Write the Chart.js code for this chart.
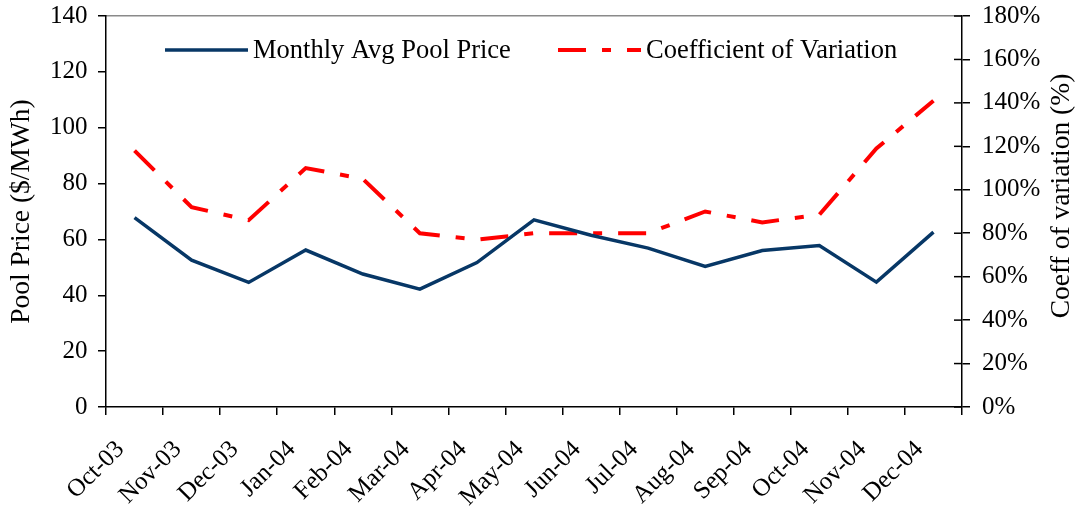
<!DOCTYPE html>
<html>
<head>
<meta charset="utf-8">
<script src="https://cdn.jsdelivr.net/npm/chart.js@4.4.1/dist/chart.umd.min.js"></script>
<style>
html,body{margin:0;padding:0;background:#fff;}
#wrap{width:1078px;height:513px;position:relative;}
</style>
</head>
<body>
<div id="wrap"><canvas id="c"></canvas></div>
<script>
const categories = ['Oct-03','Nov-03','Dec-03','Jan-04','Feb-04','Mar-04','Apr-04','May-04','Jun-04','Jul-04','Aug-04','Sep-04','Oct-04','Nov-04','Dec-04'];
const poolPrice = [67.8, 52.6, 44.6, 56.2, 47.6, 42.2, 51.7, 67.0, 61.5, 56.9, 50.3, 56.0, 57.8, 44.7, 62.6];
const coeffVariation = [118, 92, 86, 110, 105, 80, 77, 80, 80, 80, 90, 85, 88.5, 119, 141];
const seriesNames = ['Monthly Avg Pool Price', 'Coefficient of Variation'];
const axisTitles = ['Pool Price ($/MWh)', 'Coeff of variation (%)'];

const SERIF = "'Liberation Serif', 'Times New Roman', serif";
Chart.defaults.font.family = SERIF;
Chart.defaults.color = '#000';

// legend drawn inside the plot area, in one row (like the original)
const inlineLegend = {
  id: 'inlineLegend',
  afterDraw(chart) {
    const ctx = chart.ctx;
    const y = 50;
    const slots = [{ x: 165, w: 83, tx: 253 }, { x: 558, w: 83, tx: 646 }];
    ctx.save();
    chart.data.datasets.forEach((ds, i) => {
      const s = slots[i];
      ctx.beginPath();
      ctx.strokeStyle = ds.borderColor;
      ctx.lineWidth = ds.borderWidth;
      ctx.lineCap = 'butt';
      ctx.setLineDash(ds.borderDash || []);
      ctx.lineDashOffset = 0;
      ctx.moveTo(s.x, y);
      ctx.lineTo(s.x + s.w, y);
      ctx.stroke();
      ctx.setLineDash([]);
      ctx.fillStyle = '#000';
      ctx.font = '26.5px ' + SERIF;
      ctx.textAlign = 'left';
      ctx.textBaseline = 'middle';
      ctx.fillText(ds.label, s.tx, y + 1);
    });
    ctx.restore();
  }
};

// right axis: title reading bottom-to-top and tick marks crossing the axis
const rightAxisExtras = {
  id: 'rightAxisExtras',
  afterDraw(chart) {
    const s = chart.scales.y1;
    const ctx = chart.ctx;
    ctx.save();
    ctx.strokeStyle = '#000';
    ctx.lineWidth = 1.5;
    s.ticks.forEach(t => {
      const y = s.getPixelForValue(t.value);
      ctx.beginPath();
      ctx.moveTo(s.left - 8, y);
      ctx.lineTo(s.left, y);
      ctx.stroke();
    });
    ctx.translate(s.right - 16, 196);
    ctx.rotate(-Math.PI / 2);
    ctx.fillStyle = '#000';
    ctx.font = '27.5px ' + SERIF;
    ctx.textAlign = 'center';
    ctx.textBaseline = 'middle';
    ctx.fillText(axisTitles[1], 0, 0);
    ctx.restore();
  }
};

new Chart(document.getElementById('c'), {
  type: 'line',
  data: {
    labels: categories,
    datasets: [
      {
        label: seriesNames[0],
        data: poolPrice,
        yAxisID: 'y',
        borderColor: '#073766',
        backgroundColor: '#073766',
        borderWidth: 3.5,
        pointRadius: 0,
        tension: 0,
        fill: false
      },
      {
        label: seriesNames[1],
        data: coeffVariation,
        yAxisID: 'y1',
        borderColor: '#ff0000',
        backgroundColor: '#ff0000',
        borderWidth: 4,
        borderDash: [28, 16, 9, 16],
        pointRadius: 0,
        tension: 0,
        fill: false
      }
    ]
  },
  options: {
    responsive: true,
    maintainAspectRatio: false,
    animation: false,
    layout: { padding: 0 },
    plugins: {
      tooltip: { enabled: false },
      legend: { display: false }
    },
    scales: {
      x: {
        type: 'category',
        position: 'bottom',
        offset: true,
        afterFit(s) { s.height = 106; s.paddingLeft = 0; s.paddingRight = 0; },
        grid: { offset: true, drawOnChartArea: false, drawTicks: true, tickLength: 8, color: '#000', lineWidth: 1.5 },
        border: { color: '#000', width: 1.5 },
        ticks: { autoSkip: false, minRotation: 45, maxRotation: 45, color: '#000', font: { size: 25 }, padding: 20, labelOffset: -14 }
      },
      xTop: {
        type: 'category',
        position: 'top',
        display: true,
        offset: true,
        afterFit(s) { s.height = 16; s.paddingLeft = 0; s.paddingRight = 0; },
        grid: { display: false },
        border: { color: '#8a8a8a', width: 1.5 },
        ticks: { display: false }
      },
      y: {
        position: 'left',
        min: 0,
        max: 140,
        afterFit(s) { s.width = 106; s.paddingTop = 0; s.paddingBottom = 0; },
        grid: { drawOnChartArea: false, drawTicks: true, tickLength: 8, color: '#000', lineWidth: 1.5 },
        border: { color: '#000', width: 1.5 },
        ticks: { stepSize: 20, color: '#000', font: { size: 25 }, padding: 10.5 },
        title: { display: true, text: axisTitles[0], color: '#000', font: { size: 27.5 }, padding: { top: 5, bottom: 0 } }
      },
      y1: {
        position: 'right',
        min: 0,
        max: 180,
        afterFit(s) { s.width = 116; s.paddingTop = 0; s.paddingBottom = 0; },
        grid: { drawOnChartArea: false, drawTicks: true, tickLength: 8, color: '#000', lineWidth: 1.5 },
        border: { color: '#000', width: 1.5 },
        ticks: { stepSize: 20, color: '#000', font: { size: 25 }, padding: 12, callback: v => v + '%' },
        title: { display: false, text: axisTitles[1] }
      }
    }
  },
  plugins: [inlineLegend, rightAxisExtras]
});
</script>
</body>
</html>
